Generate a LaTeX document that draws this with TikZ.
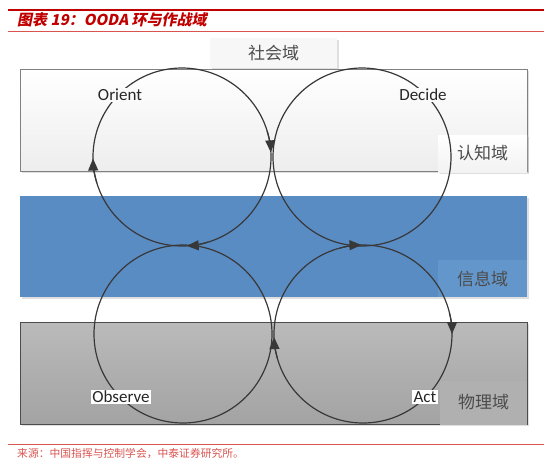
\documentclass[tikz,border=0pt]{standalone}
\usepackage{fontspec}
\setmainfont{Carlito}
\newfontfamily\cjk{Noto Sans CJK SC}
\newfontfamily\cjktitle[FakeSlant=0.2]{Noto Sans CJK SC}
\usetikzlibrary{arrows.meta,shadows}
\definecolor{hdred}{HTML}{C00000}
\definecolor{srcred}{HTML}{D9534F}
\definecolor{infoblue}{HTML}{5A8CC4}
\definecolor{infotag}{HTML}{6396CB}
\definecolor{loopgray}{HTML}{383838}

\begin{document}
\begin{tikzpicture}[x=1pt,y=1pt,
  layerbox/.style = {minimum width=507pt, minimum height=102pt, inner sep=0pt, outer sep=0pt},
  domtag/.style = {font=\cjk\fontsize{17}{17}\selectfont, text=black!70, inner sep=0pt, outer sep=0pt,
    minimum width=89pt, minimum height=37pt},
  ring/.style = {circle, draw=loopgray, line width=1.2pt, minimum size=178pt, inner sep=0pt, outer sep=0pt},
  phase/.style = {font=\fontsize{17}{17}\selectfont, text=black!85, fill=white, inner sep=1.5pt},
  flow/.style = {draw=loopgray, line width=1.2pt, -{Triangle[length=12pt,width=10pt]}},
  soft/.style = {drop shadow={shadow xshift=1.5pt, shadow yshift=-1.5pt, opacity=0.25}}]

\useasboundingbox (0,0) rectangle (554,-466);

% header and source
\coordinate (hl) at (8,-10);  \coordinate (hr) at (544,-10);
\coordinate (tl) at (8,-31.5); \coordinate (tr) at (544,-31.5);
\coordinate (bl) at (8,-444.5); \coordinate (br) at (544,-444.5);
\draw[hdred, line width=1.6pt] (hl) -- (hr);
\draw[srcred, line width=0.8pt] (tl) -- (tr);
\draw[srcred, line width=0.8pt] (bl) -- (br);
\node[anchor=west, inner sep=0pt, text=hdred, font=\cjktitle\bfseries\fontsize{15}{15}\selectfont] (title) at (17,-20) {图表 19：OODA 环与作战域};
\node[anchor=west, inner sep=0pt, text=srcred, font=\cjk\fontsize{10.8}{10.8}\selectfont] (source) at (17,-453) {来源：中国指挥与控制学会，中泰证券研究所。};

% domains
\node[layerbox, soft, draw=black!50, line width=1pt, top color=white, bottom color=black!7] (cognitive) at (273.5,-120) {};
\node[layerbox, soft, fill=infoblue, minimum height=101pt] (information) at (273.5,-246.5) {};
\node[layerbox, soft, draw=black!70, line width=1pt, top color=black!27, bottom color=black!36] (physical) at (273.5,-373) {};

\node[domtag, soft, fill=black!3, minimum width=127pt, minimum height=30pt] (social) at (273.5,-53) {社会域};
\node[domtag, soft, top color=white, bottom color=black!5] (cogtag) at (482.5,-153.5) {认知域};
\node[domtag, fill=infotag] (infotag) at (482.5,-278.5) {信息域};
\node[domtag, fill=black!31, minimum width=87pt, minimum height=44pt] (phystag) at (483.5,-402.5) {物理域};

% loops
\node[ring] (orientloop) at (182,-157) {};
\node[ring] (decideloop) at (362,-157) {};
\node[ring] (observeloop) at (183,-334) {};
\node[ring] (actloop) at (363,-334) {};

\draw[flow] (orientloop.197) arc[start angle=197, end angle=181, radius=89];
\draw[flow] (orientloop.17) arc[start angle=17, end angle=3, radius=89];
\draw[flow] (orientloop.287) arc[start angle=287, end angle=273, radius=89];
\draw[flow] (actloop.105) arc[start angle=105, end angle=91, radius=89];
\draw[flow] (actloop.14) arc[start angle=14, end angle=0, radius=89];
\draw[flow] (actloop.196) arc[start angle=196, end angle=182, radius=89];

\node[phase, fill=black!2] (orient) at (120,-95) {Orient};
\node[phase, fill=black!2] (decide) at (423,-95) {Decide};
\node[phase] (observe) at (121,-397) {Observe};
\node[phase] (act) at (425,-397) {Act};
\end{tikzpicture}
\end{document}
